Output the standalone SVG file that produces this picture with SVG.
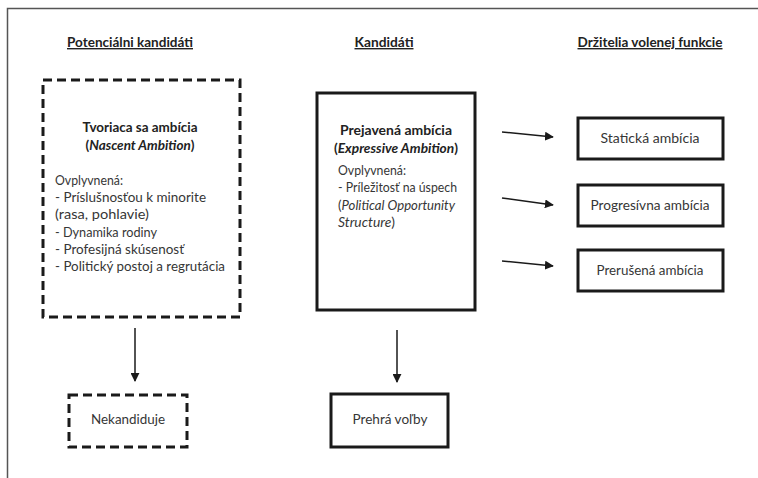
<svg xmlns="http://www.w3.org/2000/svg" width="758" height="478" viewBox="0 0 758 478">
<style>
text{font-family:Lato,"Open Sans","Liberation Sans",sans-serif;font-size:14px;fill:#363636}
.h{font-weight:bold;fill:#222;text-decoration:underline}
.b{font-weight:bold;fill:#222;font-size:13.5px}
.c{text-anchor:middle}
.box{fill:#fff;stroke:#1a1a1a;stroke-width:3}
.dash{fill:#fff;stroke:#1a1a1a;stroke-width:3;stroke-dasharray:9 5}
.conn{stroke:#1a1a1a;stroke-width:1.5;fill:none;marker-end:url(#ah)}
.frame{stroke:#555;stroke-width:1.5;fill:none}
</style>
<defs>
<marker id="ah" viewBox="0 0 10 10" refX="9" refY="5" markerWidth="6" markerHeight="6" orient="auto" markerUnits="strokeWidth">
<path d="M0,0 L10,5 L0,10 Z" fill="#1a1a1a"/>
</marker>
</defs>
<rect width="758" height="478" fill="#fff"/>
<path class="frame" d="M7.5,478 V8.5 H758"/>
<g id="headers">
<text class="h c" x="130" y="47" textLength="126" lengthAdjust="spacingAndGlyphs">Potenciálni kandidáti</text>
<text class="h c" x="384" y="47" textLength="59" lengthAdjust="spacingAndGlyphs">Kandidáti</text>
<text class="h c" x="650" y="47" textLength="145" lengthAdjust="spacingAndGlyphs">Držitelia volenej funkcie</text>
</g>
<g id="nascent">
<rect class="dash" x="43" y="80" width="197" height="237"/>
<text class="b c" x="140" y="131.5" textLength="115" lengthAdjust="spacingAndGlyphs">Tvoriaca sa ambícia</text>
<text class="b c" x="140" y="150" textLength="109" lengthAdjust="spacingAndGlyphs">(<tspan font-style="italic">Nascent Ambition</tspan>)</text>
<text x="55" y="185" textLength="68" lengthAdjust="spacingAndGlyphs">Ovplyvnená:</text>
<text x="55" y="202" textLength="151" lengthAdjust="spacingAndGlyphs">- Príslušnosťou k minorite</text>
<text x="55" y="219" textLength="94" lengthAdjust="spacingAndGlyphs">(rasa, pohlavie)</text>
<text x="55" y="237" textLength="102" lengthAdjust="spacingAndGlyphs">- Dynamika rodiny</text>
<text x="55" y="254" textLength="129" lengthAdjust="spacingAndGlyphs">- Profesijná skúsenosť</text>
<text x="55" y="271" textLength="170" lengthAdjust="spacingAndGlyphs">- Politický postoj a regrutácia</text>
</g>
<g id="expressive">
<rect class="box" x="317" y="93" width="158" height="217"/>
<text class="b c" x="396" y="134.5" textLength="112" lengthAdjust="spacingAndGlyphs">Prejavená ambícia</text>
<text class="b c" x="396" y="153" textLength="124" lengthAdjust="spacingAndGlyphs">(<tspan font-style="italic">Expressive Ambition</tspan>)</text>
<text x="338" y="175" textLength="68" lengthAdjust="spacingAndGlyphs">Ovplyvnená:</text>
<text x="338" y="192" textLength="119" lengthAdjust="spacingAndGlyphs">- Príležitosť na úspech</text>
<text x="338" y="210" textLength="117" lengthAdjust="spacingAndGlyphs">(<tspan font-style="italic">Political Opportunity</tspan></text>
<text x="338" y="227" textLength="57" lengthAdjust="spacingAndGlyphs"><tspan font-style="italic">Structure</tspan>)</text>
</g>
<g id="static">
<rect class="box" x="578" y="118" width="145" height="41"/>
<text class="c" x="650" y="143" textLength="99" lengthAdjust="spacingAndGlyphs">Statická ambícia</text>
</g>
<g id="progressive">
<rect class="box" x="578" y="185" width="145" height="41"/>
<text class="c" x="650" y="210" textLength="119" lengthAdjust="spacingAndGlyphs">Progresívna ambícia</text>
</g>
<g id="discrete">
<rect class="box" x="578" y="250" width="145" height="41"/>
<text class="c" x="650" y="275" textLength="107" lengthAdjust="spacingAndGlyphs">Prerušená ambícia</text>
</g>
<g id="nekandiduje">
<rect class="dash" x="69" y="395" width="118" height="52"/>
<text class="c" x="128" y="424" textLength="74" lengthAdjust="spacingAndGlyphs">Nekandiduje</text>
</g>
<g id="prehra">
<rect class="box" x="331" y="394" width="117" height="53"/>
<text class="c" x="390" y="424" textLength="75" lengthAdjust="spacingAndGlyphs">Prehrá voľby</text>
</g>
<g id="connectors">
<line class="conn" x1="502" y1="132" x2="553" y2="137"/>
<line class="conn" x1="502" y1="198" x2="553" y2="205"/>
<line class="conn" x1="502" y1="261" x2="553" y2="266"/>
<line class="conn" x1="135" y1="328" x2="135" y2="381"/>
<line class="conn" x1="397" y1="330" x2="397" y2="382"/>
</g>
</svg>
